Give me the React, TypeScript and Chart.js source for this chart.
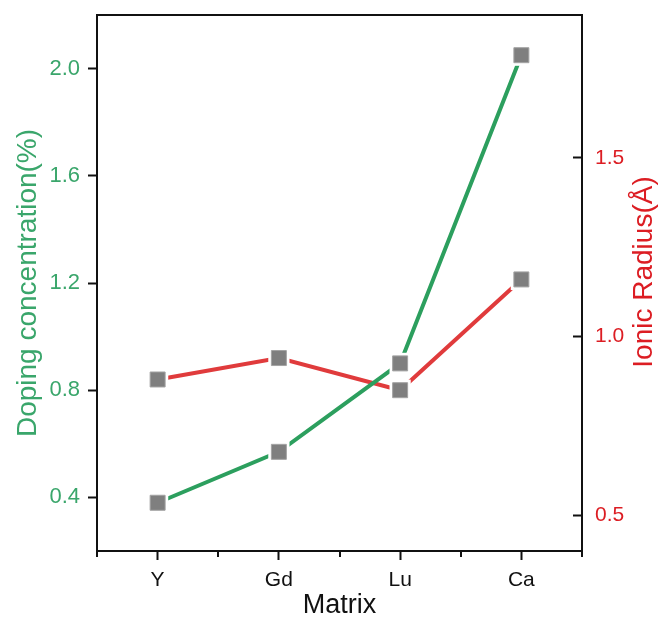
import React, { useEffect, useRef } from "react";
import { Chart, registerables } from "chart.js";

Chart.register(...registerables);

const CATEGORIES = ["Y", "Gd", "Lu", "Ca"];
const DOPING = [0.38, 0.57, 0.9, 2.05];
const RADIUS = [0.88, 0.94, 0.85, 1.16];
const LEFT_TICKS = [0.4, 0.8, 1.2, 1.6, 2.0];
const RIGHT_TICKS = [0.5, 1.0, 1.5];
const X_MINOR = [0.5, 1.5, 2.5, 3.5, 4.5];
const X_TITLE = "Matrix";
const LEFT_TITLE = "Doping concentration(%)";
const RIGHT_TITLE = "Ionic Radius(Å)";

const FONT = "'Liberation Sans', Arial, sans-serif";
const GREEN_LINE = "#2c9f5e";
const GREEN_TEXT = "#3aa66b";
const RED_LINE = "#e03b3c";
const RED_TEXT = "#dc1d23";
const AXIS = "#111111";

const toPoints = (vals: number[]) => vals.map((v, i) => ({ x: i + 1, y: v }));

const zeroPad = (s: any) => {
  s.paddingTop = 0;
  s.paddingBottom = 0;
  s.paddingLeft = 0;
  s.paddingRight = 0;
};

const extras = {
  id: "extras",
  afterDraw(chart: any) {
    const { ctx, chartArea } = chart;
    const xs = chart.scales.x;
    ctx.save();
    // top frame
    ctx.strokeStyle = AXIS;
    ctx.lineWidth = 2;
    ctx.beginPath();
    ctx.moveTo(chartArea.left - 1, chartArea.top);
    ctx.lineTo(chartArea.right + 1, chartArea.top);
    ctx.stroke();
    // minor x ticks
    X_MINOR.forEach((v) => {
      const px = Math.round(xs.getPixelForValue(v));
      ctx.beginPath();
      ctx.moveTo(px, chartArea.bottom);
      ctx.lineTo(px, chartArea.bottom + 6);
      ctx.stroke();
    });
    // right title, reading bottom-to-top
    ctx.translate(644, (chartArea.top + chartArea.bottom) / 2 - 11);
    ctx.rotate(-Math.PI / 2);
    ctx.font = `28px ${FONT}`;
    ctx.fillStyle = RED_TEXT;
    ctx.textAlign = "center";
    ctx.textBaseline = "middle";
    ctx.fillText(RIGHT_TITLE, 0, 0);
    ctx.restore();
  },
};

export default function App() {
  const ref = useRef<HTMLCanvasElement>(null);
  useEffect(() => {
    if (!ref.current) return;
    const chart = new Chart(ref.current, {
      type: "line",
      data: {
        datasets: [
          {
            label: "doping-markers",
            data: toPoints(DOPING),
            yAxisID: "y",
            showLine: false,
            pointStyle: "rect",
            pointRadius: 10.6,
            pointBackgroundColor: "#7f7f7f",
            pointBorderColor: "#a3a3a3",
            pointBorderWidth: 1,
            order: 0,
          },
          {
            label: "radius-markers",
            data: toPoints(RADIUS),
            yAxisID: "y1",
            showLine: false,
            pointStyle: "rect",
            pointRadius: 10.6,
            pointBackgroundColor: "#7f7f7f",
            pointBorderColor: "#a3a3a3",
            pointBorderWidth: 1,
            order: 0,
          },
          {
            label: "doping-halo",
            data: toPoints(DOPING),
            yAxisID: "y",
            showLine: false,
            pointStyle: "rect",
            pointRadius: 15,
            pointBackgroundColor: "#ffffff",
            pointBorderWidth: 0,
            order: 1,
          },
          {
            label: "radius-halo",
            data: toPoints(RADIUS),
            yAxisID: "y1",
            showLine: false,
            pointStyle: "rect",
            pointRadius: 15,
            pointBackgroundColor: "#ffffff",
            pointBorderWidth: 0,
            order: 1,
          },
          {
            label: "Doping",
            data: toPoints(DOPING),
            yAxisID: "y",
            borderColor: GREEN_LINE,
            borderWidth: 4,
            pointRadius: 0,
            tension: 0,
            order: 2,
          },
          {
            label: "Radius",
            data: toPoints(RADIUS),
            yAxisID: "y1",
            borderColor: RED_LINE,
            borderWidth: 4,
            pointRadius: 0,
            tension: 0,
            order: 2,
          },
        ],
      },
      options: {
        responsive: false,
        animation: false,
        events: [],
        layout: { padding: { top: 15, left: 0, right: 0, bottom: 0 } },
        plugins: { legend: { display: false }, tooltip: { enabled: false } },
        scales: {
          x: {
            type: "linear",
            min: 0.5,
            max: 4.5,
            afterBuildTicks: (s: any) => {
              s.ticks = CATEGORIES.map((_, i) => ({ value: i + 1 }));
            },
            afterFit: (s: any) => {
              s.height = 70;
              zeroPad(s);
            },
            ticks: {
              autoSkip: false,
              maxRotation: 0,
              padding: 8,
              color: AXIS,
              font: { family: FONT, size: 21 },
              callback: (v: any) => CATEGORIES[Math.round(v) - 1] ?? "",
            },
            grid: { drawOnChartArea: false, drawTicks: true, tickLength: 9, tickColor: AXIS, tickWidth: 2 },
            border: { display: true, color: AXIS, width: 2 },
            title: {
              display: true,
              text: X_TITLE,
              color: AXIS,
              font: { family: FONT, size: 27, lineHeight: 1 },
              padding: { top: 0, bottom: 2 },
            },
          },
          y: {
            type: "linear",
            position: "left",
            min: 0.2,
            max: 2.2,
            afterBuildTicks: (s: any) => {
              s.ticks = LEFT_TICKS.map((v) => ({ value: v }));
            },
            afterFit: (s: any) => {
              s.width = 97;
              zeroPad(s);
            },
            ticks: {
              padding: 8,
              color: GREEN_TEXT,
              font: { family: FONT, size: 22 },
              callback: (v: any) => Number(v).toFixed(1),
            },
            grid: { drawOnChartArea: false, drawTicks: true, tickLength: 9, tickColor: AXIS, tickWidth: 2 },
            border: { display: true, color: AXIS, width: 2 },
            title: {
              display: true,
              text: LEFT_TITLE,
              color: GREEN_TEXT,
              font: { family: FONT, size: 28, lineHeight: 1 },
              padding: { top: 14, bottom: 0 },
            },
          },
          y1: {
            type: "linear",
            position: "right",
            min: 0.4,
            max: 1.9,
            afterBuildTicks: (s: any) => {
              s.ticks = RIGHT_TICKS.map((v) => ({ value: v }));
            },
            afterFit: (s: any) => {
              s.width = 82;
              zeroPad(s);
            },
            ticks: {
              padding: 22,
              color: RED_TEXT,
              font: { family: FONT, size: 21 },
              callback: (v: any) => Number(v).toFixed(1),
            },
            grid: { drawOnChartArea: false, drawTicks: true, tickLength: -9, tickColor: AXIS, tickWidth: 2 },
            border: { display: true, color: AXIS, width: 2 },
            title: { display: false },
          },
        },
      },
      plugins: [extras],
    } as any);
    return () => chart.destroy();
  }, []);
  return (
    <div style={{ position: "fixed", left: 0, top: 0, width: 664, height: 621, background: "#fff" }}>
      <canvas ref={ref} width={664} height={621} />
    </div>
  );
}
